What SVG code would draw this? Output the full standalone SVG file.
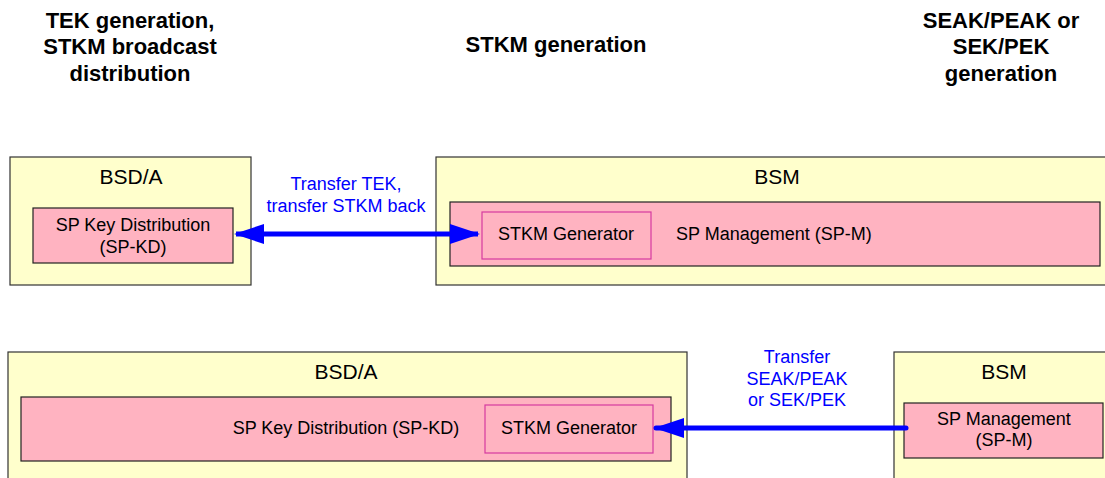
<svg xmlns="http://www.w3.org/2000/svg" width="1105" height="478" viewBox="0 0 1105 478">
<style>
.hdr{font-family:"Liberation Sans",Arial,sans-serif;font-size:22px;font-weight:bold;fill:#000;text-anchor:middle}
.title{font-family:"Liberation Sans",Arial,sans-serif;font-size:21px;fill:#000;text-anchor:middle}
.lbl{font-family:"Liberation Sans",Arial,sans-serif;font-size:18px;fill:#000;text-anchor:middle}
.blue{font-family:"Liberation Sans",Arial,sans-serif;font-size:18px;fill:#0000FF;text-anchor:middle}
.outer{fill:#FFFFCC;stroke:#333;stroke-width:1.2}
.inner{fill:#FFB3C1;stroke:#222;stroke-width:1.2}
.gen{fill:#FFB3C1;stroke:#D63AA0;stroke-width:1.2}
.conn{stroke:#0000FF;stroke-width:5;fill:none}
</style>
<defs>
<marker id="ah" viewBox="0 0 30 20" refX="28" refY="10" markerWidth="30" markerHeight="20" markerUnits="userSpaceOnUse" orient="auto-start-reverse">
<path d="M0,0 L30,10 L0,20 Z" fill="#0000FF"/>
</marker>
</defs>
<rect width="1105" height="478" fill="#fff"/>
<g id="headers">
<text class="hdr" x="130" y="28">TEK generation,</text>
<text class="hdr" x="130" y="54">STKM broadcast</text>
<text class="hdr" x="130" y="81">distribution</text>
<text class="hdr" x="556" y="52">STKM generation</text>
<text class="hdr" x="1001" y="28">SEAK/PEAK or</text>
<text class="hdr" x="1001" y="54">SEK/PEK</text>
<text class="hdr" x="1001" y="81">generation</text>
</g>
<g id="bsda-top">
<rect class="outer" x="10" y="157" width="241" height="128"/>
<text class="title" x="131" y="184">BSD/A</text>
<g id="spkd-top">
<rect class="inner" x="33" y="208" width="200" height="55"/>
<text class="lbl" x="133" y="231">SP Key Distribution</text>
<text class="lbl" x="133" y="253">(SP-KD)</text>
</g>
</g>
<g id="bsm-top">
<rect class="outer" x="436" y="157" width="675" height="128"/>
<text class="title" x="777" y="184">BSM</text>
<g id="spm-top">
<rect class="inner" x="450" y="202" width="650" height="64"/>
<text class="lbl" x="676" y="240" style="text-anchor:start">SP Management (SP-M)</text>
</g>
<g id="stkmgen-top">
<rect class="gen" x="482" y="212" width="169" height="47"/>
<text class="lbl" x="566" y="240">STKM Generator</text>
</g>
</g>
<g id="bsda-bottom">
<rect class="outer" x="8" y="352" width="679" height="130"/>
<text class="title" x="346" y="379">BSD/A</text>
<g id="spkd-bottom">
<rect class="inner" x="21" y="397" width="650" height="64"/>
<text class="lbl" x="346" y="434">SP Key Distribution (SP-KD)</text>
</g>
<g id="stkmgen-bottom">
<rect class="gen" x="485" y="405" width="168" height="48"/>
<text class="lbl" x="569" y="434">STKM Generator</text>
</g>
</g>
<g id="bsm-bottom">
<rect class="outer" x="894" y="352" width="220" height="130"/>
<text class="title" x="1004" y="379">BSM</text>
<g id="spm-bottom">
<rect class="inner" x="904" y="403" width="199" height="55"/>
<text class="lbl" x="1004" y="425">SP Management</text>
<text class="lbl" x="1004" y="446">(SP-M)</text>
</g>
</g>
<g id="connectors">
<line class="conn" x1="236" y1="234" x2="478" y2="234" marker-start="url(#ah)" marker-end="url(#ah)"/>
<line class="conn" x1="906" y1="428" x2="656" y2="428" stroke-linecap="round" marker-end="url(#ah)"/>
<text class="blue" x="346" y="190">Transfer TEK,</text>
<text class="blue" x="346" y="212">transfer STKM back</text>
<text class="blue" x="797" y="363">Transfer</text>
<text class="blue" x="797" y="385">SEAK/PEAK</text>
<text class="blue" x="797" y="406">or SEK/PEK</text>
</g>
</svg>
